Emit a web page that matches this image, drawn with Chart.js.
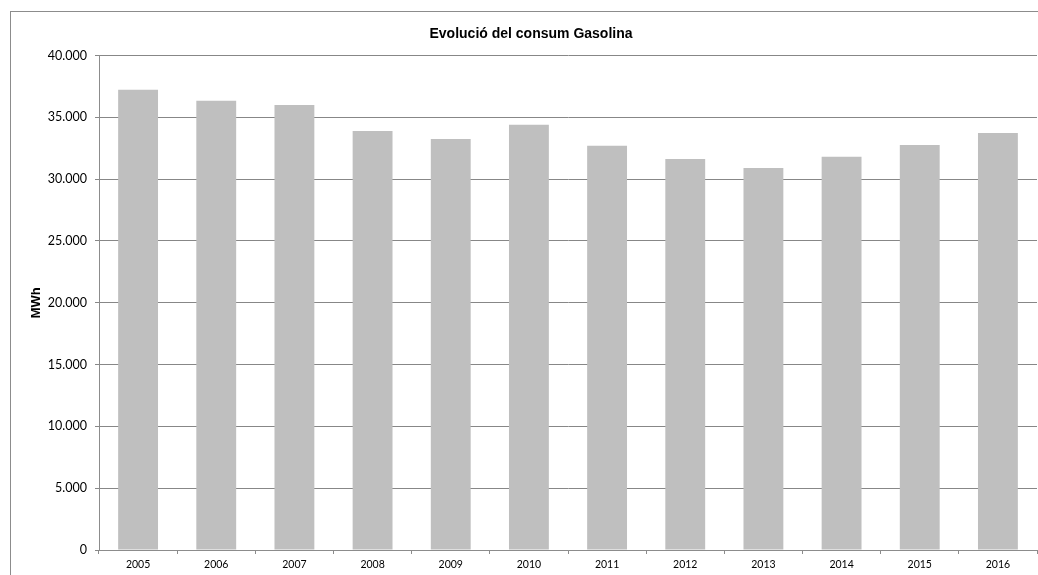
<!DOCTYPE html>
<html>
<head>
<meta charset="utf-8">
<script src="https://cdn.jsdelivr.net/npm/chart.js@4/dist/chart.umd.min.js"></script>
<style>
html,body{margin:0;padding:0;background:#fff;}
#wrap{width:1038px;height:575px;position:relative;}
</style>
</head>
<body>
<div id="wrap"><canvas id="c" width="1038" height="575"></canvas></div>
<script>
const categories = ['2005','2006','2007','2008','2009','2010','2011','2012','2013','2014','2015','2016'];
const consum = [37220, 36330, 36000, 33900, 33250, 34390, 32690, 31630, 30910, 31800, 32770, 33740];
const titleText = 'Evolució del consum Gasolina';
const yTitle = 'MWh';
const yMin = 0, yMax = 40000, yStep = 5000;

function fmt(v){ return String(Math.round(v)).replace(/\B(?=(\d{3})+(?!\d))/g, '.'); }

const frame = {
  id:'frame',
  beforeDraw(chart){
    const ctx = chart.ctx;
    ctx.save();
    ctx.fillStyle='#fff';
    ctx.fillRect(0,0,chart.width,chart.height);
    ctx.strokeStyle='#8c8c8c';
    ctx.lineWidth=1;
    ctx.strokeRect(10.5,11.5,1100,700);
    ctx.restore();
  },
  afterDraw(chart){
    const ctx = chart.ctx;
    ctx.save();
    ctx.fillStyle='#000';
    ctx.font='bold 14px "Liberation Sans"';
    ctx.textAlign='center';
    ctx.textBaseline='middle';
    ctx.fillText(titleText, 531, 34);
    ctx.restore();
  }
};

new Chart(document.getElementById('c'), {
  type:'bar',
  data:{
    labels:categories,
    datasets:[{data:consum, backgroundColor:'#bfbfbf', borderWidth:0, barPercentage:0.51, categoryPercentage:1.0}]
  },
  plugins:[frame],
  options:{
    responsive:false,
    animation:false,
    devicePixelRatio:1,
    layout:{padding:{left:0,right:1,top:55.5,bottom:0}},
    plugins:{
      legend:{display:false},
      tooltip:{enabled:false},
      title:{display:false}
    },
    scales:{
      x:{
        offset:true,
        grid:{offset:true,drawOnChartArea:false,drawTicks:true,tickLength:4,color:'#8c8c8c'},
        border:{color:'#8c8c8c'},
        ticks:{color:'#000',font:{family:'Lato',size:10.5},padding:4,maxRotation:0},
        afterFit(s){s.height=25;}
      },
      y:{
        min:yMin,max:yMax,
        ticks:{stepSize:yStep,color:'#000',font:{family:'Lato',size:12.5},padding:8,callback:(v)=>fmt(v)},
        grid:{color:'#878787',tickLength:4},
        border:{color:'#8c8c8c'},
        title:{display:true,text:yTitle,color:'#000',font:{family:'Liberation Sans',size:13,weight:'bold'},padding:{top:29}},
        afterFit(s){s.width=99;}
      }
    }
  }
});
</script>
</body>
</html>
